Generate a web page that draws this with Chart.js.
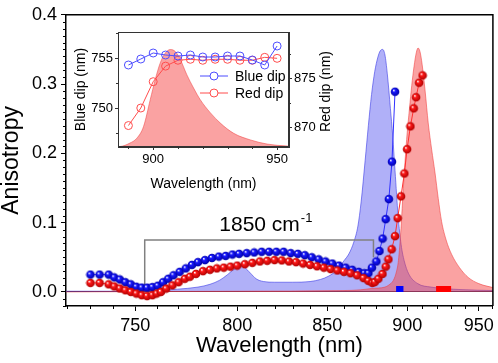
<!DOCTYPE html>
<html>
<head>
<meta charset="utf-8">
<script src="https://cdn.jsdelivr.net/npm/chart.js@4.4.1/dist/chart.umd.min.js"></script>
<style>
  html, body { margin: 0; padding: 0; background: #fff; }
  #wrap { position: relative; width: 498px; height: 363px; }
  #mainChart { position: absolute; left: 0; top: 0; }
  #insetChart { position: absolute; left: 70px; top: 22px; }
</style>
</head>
<body>
<div id="wrap">
  <canvas id="mainChart" width="498" height="363"></canvas>
  <canvas id="insetChart" width="268" height="172"></canvas>
</div>
<script>
// anisotropy dips (main plot), wavelength in nm
const blueWl = [730, 734, 738, 740.5, 743, 745.5, 748, 750.5, 753, 755.5,
    758, 760.5, 763, 765.5, 768, 771, 774, 777, 780, 783.5,
    787, 790.5, 794, 797.5, 801, 805, 809, 813, 817, 821,
    825, 829, 833, 837, 841, 845, 849, 853, 857, 861,
    865, 869, 872.5, 875, 877.2, 880, 882, 884, 886, 888,
    890, 892];
const blueAniso = [0.025, 0.025, 0.025, 0.021, 0.018, 0.014, 0.011, 0.0075, 0.0063, 0.0062,
    0.007, 0.009, 0.014, 0.019, 0.024, 0.029, 0.034, 0.039, 0.043, 0.046,
    0.049, 0.051, 0.052, 0.054, 0.055, 0.056, 0.057, 0.058, 0.058, 0.058,
    0.058, 0.056, 0.055, 0.053, 0.050, 0.047, 0.044, 0.041, 0.038, 0.035,
    0.032, 0.029, 0.027, 0.027, 0.035, 0.044, 0.059, 0.077, 0.105, 0.134,
    0.188, 0.289];

const redWl = [730, 734, 738, 740.5, 743, 745.5, 748, 750.5, 753, 755.5,
    758, 760, 762, 764.5, 767.5, 770.5, 773.5, 776, 779, 782.5,
    786, 789.5, 793, 796.5, 800, 804, 808, 812, 816, 820,
    824, 828, 832, 836, 840, 844, 848, 852, 856, 860,
    864, 868, 872, 875, 877.5, 879, 881.3, 883.9, 886, 887.7,
    889.8, 892, 893.7, 895.9, 898.1, 899.9, 902.1, 904.3, 905.9, 907.9,
    910.3];
const redAniso = [0.013, 0.013, 0.011, 0.008, 0.005, 0.0024, 0.0, -0.0023, -0.0047, -0.006,
    -0.0047, -0.0023, 0.0, 0.0048, 0.0095, 0.014, 0.019, 0.022, 0.026, 0.030,
    0.032, 0.034, 0.035, 0.0365, 0.038, 0.040, 0.042, 0.044, 0.045, 0.046,
    0.0455, 0.044, 0.043, 0.041, 0.039, 0.037, 0.035, 0.033, 0.031, 0.029,
    0.027, 0.024, 0.020, 0.016, 0.013, 0.0142, 0.019, 0.026, 0.0365, 0.047,
    0.0616, 0.0805, 0.1065, 0.138, 0.171, 0.206, 0.239, 0.265, 0.281, 0.302,
    0.3125];

// spectra (shaded areas)
const blueSpecWl = [719, 740, 760, 770, 780, 786, 791, 795, 798, 801.5,
    804, 807, 810, 814, 820, 830, 840, 846, 851, 856,
    860, 863, 866, 868.5, 870.5, 873, 875, 877, 879, 881,
    882.5, 884, 885.5, 887, 889, 890.5, 892, 894, 896, 898,
    901, 907, 916, 937, 961];
const blueSpecVal = [0.001, 0.001, 0.002, 0.004, 0.007, 0.011, 0.017, 0.025, 0.032, 0.037,
    0.035, 0.027, 0.019, 0.015, 0.014, 0.014, 0.015, 0.018, 0.023, 0.032,
    0.045, 0.055, 0.072, 0.095, 0.13, 0.19, 0.24, 0.285, 0.318, 0.339,
    0.348, 0.35, 0.342, 0.315, 0.265, 0.225, 0.175, 0.11, 0.068, 0.045,
    0.026, 0.012, 0.007, 0.0034, 0.002];
const redSpecWl = [719, 800, 860, 870, 877, 885.5, 888, 891, 893, 894.2,
    895.9, 897.4, 899.6, 901.5, 903, 904.5, 906, 907.2, 908.5, 910,
    912, 914.1, 916.5, 918.7, 921, 923.3, 926.5, 930.3, 936, 942.2,
    950, 961];
const redSpecVal = [0.0, 0.001, 0.002, 0.003, 0.005, 0.007, 0.010, 0.017, 0.03, 0.045,
    0.092, 0.149, 0.22, 0.265, 0.298, 0.325, 0.345, 0.352, 0.347, 0.328,
    0.29, 0.244, 0.205, 0.173, 0.135, 0.102, 0.075, 0.0545, 0.035, 0.021,
    0.012, 0.006];

// small markers on the baseline
const blueMarkWl = [892.7, 897.5];
const redMarkWl = [919.5, 930];
const markY = 0.0043;

// 1850 cm-1 bracket
const bracketWl = [754.4, 754.4, 878.2, 878.2];
const bracketY = [0.0024, 0.075, 0.075, 0.05];
const bracketLabel = [815, 0.0876];

const xTickWl = [750, 800, 850, 900, 950];
const yTicks = [0, 0.1, 0.2, 0.3, 0.4];

// inset
const insetWl = [890, 895, 900, 905, 910, 915, 920, 925, 930, 935, 940, 945, 950];
const insetBlueDip = [754.3, 754.9, 755.5, 755.3, 755.2, 755.3, 755.1, 755.1, 755.2, 755.2, 754.8, 754.3, 756.2];
const insetRedDip = [870.2, 872.0, 874.7, 876.3, 876.9, 877.0, 876.9, 877.0, 877.0, 876.9, 876.9, 877.2, 877.1];
const insetSpecWl = [880, 886.6, 890.6, 893.4, 896.1, 898.8, 900.8, 902.8, 904.9, 906.9,
    908.9, 910.9, 913.6, 916.3, 919, 923.1, 927.1, 932.5, 939.3, 946,
    954.1, 960];
const insetSpecVal = [0, 0.005, 0.04, 0.09, 0.21, 0.485, 0.69, 0.86, 0.965, 1.0,
    0.98, 0.9, 0.74, 0.605, 0.485, 0.35, 0.245, 0.14, 0.072, 0.03,
    0.01, 0.005];
const insetXTicks = [900, 950];
const insetBlueTicks = [750, 755];
const insetRedTicks = [870, 875];

const FONT = '"Liberation Sans", Arial, sans-serif';
Chart.defaults.font.family = FONT;
Chart.defaults.color = "#000";

const toWn = (wl) => 1e7 / wl;

function points(xs, ys, conv) {
    return xs.map((x, i) => ({ x: conv ? conv(x) : x, y: ys[i] }));
}

function sphere(mid, dark) {
    const r = 4.3;
    const s = 10;
    const c = document.createElement("canvas");
    c.width = s;
    c.height = s;
    const g = c.getContext("2d");
    const grad = g.createRadialGradient(s * 0.36, s * 0.34, 0.3, s / 2, s / 2, r);
    grad.addColorStop(0, "#ffffff");
    grad.addColorStop(0.3, mid);
    grad.addColorStop(1, dark);
    g.fillStyle = grad;
    g.beginPath();
    g.arc(s / 2, s / 2, r, 0, Math.PI * 2);
    g.fill();
    return c;
}

const minorXWl = [];
for (let w = 720; w <= 960; w += 10) if (w % 50 !== 0) minorXWl.push(w);
const minorY = [];
for (let i = -2; i <= 40; i++) if (i % 10 !== 0) minorY.push(i / 100);

const mainDecor = {
    id: "mainDecor",
    afterDatasetsDraw(chart) {
        const { ctx, scales: { x, y } } = chart;
        const cx = x.getPixelForValue(toWn(bracketLabel[0]));
        const cy = y.getPixelForValue(bracketLabel[1]);
        ctx.save();
        ctx.fillStyle = "#000";
        ctx.textBaseline = "alphabetic";
        ctx.font = "21px " + FONT;
        const wBase = ctx.measureText("1850 cm").width;
        ctx.font = "13px " + FONT;
        const wSup = ctx.measureText("-1").width;
        const left = cx - (wBase + wSup) / 2;
        ctx.font = "21px " + FONT;
        ctx.fillText("1850 cm", left, cy);
        ctx.font = "13px " + FONT;
        ctx.fillText("-1", left + wBase + 1, cy - 9);
        ctx.restore();
    },
    afterDraw(chart) {
        const { ctx, chartArea: a, scales: { x, y } } = chart;
        ctx.save();
        ctx.strokeStyle = "#000";
        ctx.lineWidth = 1.5;
        ctx.beginPath();
        ctx.moveTo(a.left, a.top);
        ctx.lineTo(a.right, a.top);
        ctx.lineTo(a.right, a.bottom);
        ctx.stroke();
        ctx.lineWidth = 1;
        ctx.beginPath();
        minorXWl.forEach((w) => {
            const px = Math.round(x.getPixelForValue(toWn(w))) + 0.5;
            ctx.moveTo(px, a.bottom);
            ctx.lineTo(px, a.bottom + 3);
        });
        minorY.forEach((v) => {
            const py = Math.round(y.getPixelForValue(v)) + 0.5;
            ctx.moveTo(a.left, py);
            ctx.lineTo(a.left - 3, py);
        });
        ctx.stroke();
        ctx.restore();
    },
};

new Chart(document.getElementById("mainChart"), {
    type: "line",
    data: {
        datasets: [
            {
                label: "red dip",
                data: points(redWl, redAniso, toWn),
                borderColor: "#ff3030",
                borderWidth: 1,
                pointStyle: sphere("#ff1a1a", "#b00000"),
                pointRadius: 4,
                fill: false,
                order: 0,
            },
            {
                label: "blue dip",
                data: points(blueWl, blueAniso, toWn),
                borderColor: "#3030ff",
                borderWidth: 1,
                pointStyle: sphere("#1a1aff", "#0000a8"),
                pointRadius: 4,
                fill: false,
                order: 1,
            },
            {
                label: "blue mark",
                data: points(blueMarkWl, [markY, markY], toWn),
                borderColor: "#0000ff",
                borderWidth: 6,
                borderCapStyle: "butt",
                pointRadius: 0,
                fill: false,
                order: 2,
            },
            {
                label: "red mark",
                data: points(redMarkWl, [markY, markY], toWn),
                borderColor: "#ff0000",
                borderWidth: 6,
                borderCapStyle: "butt",
                pointRadius: 0,
                fill: false,
                order: 2,
            },
            {
                label: "bracket",
                data: points(bracketWl, bracketY, toWn),
                borderColor: "#808080",
                borderWidth: 1.5,
                pointRadius: 0,
                fill: false,
                order: 3,
            },
            {
                label: "red spectrum",
                data: points(redSpecWl, redSpecVal, toWn),
                borderColor: "rgba(240,60,60,0.55)",
                backgroundColor: "rgba(245,70,70,0.5)",
                borderWidth: 1,
                pointRadius: 0,
                cubicInterpolationMode: "monotone",
                fill: "origin",
                order: 4,
            },
            {
                label: "blue spectrum",
                data: points(blueSpecWl, blueSpecVal, toWn),
                borderColor: "rgba(60,60,230,0.6)",
                backgroundColor: "rgba(80,80,240,0.45)",
                borderWidth: 1,
                pointRadius: 0,
                cubicInterpolationMode: "monotone",
                fill: "origin",
                order: 5,
            },
        ],
    },
    options: {
        responsive: false,
        animation: false,
        layout: { padding: { top: 10, right: 2, left: 0, bottom: 0 } },
        plugins: { legend: { display: false }, tooltip: { enabled: false } },
        scales: {
            x: {
                type: "linear",
                reverse: true,
                min: toWn(960.5),
                max: toWn(719.5),
                afterBuildTicks: (s) => {
                    s.ticks = xTickWl.map((w) => ({ value: toWn(w) }));
                },
                afterFit: (s) => {
                    s.height = 57;
                },
                ticks: {
                    autoSkip: false,
                    maxRotation: 0,
                    padding: 4,
                    font: { size: 18 },
                    callback: (v) => Math.round(1e7 / v),
                },
                grid: { drawOnChartArea: false, tickLength: 5, color: "#000", lineWidth: 1 },
                border: { color: "#000", width: 1.5 },
                title: {
                    display: true,
                    text: "Wavelength (nm)",
                    font: { size: 22, lineHeight: 1 },
                    padding: { top: 0, bottom: 6 },
                },
            },
            y: {
                min: -0.0203,
                max: 0.4,
                afterBuildTicks: (s) => {
                    s.ticks = yTicks.map((v) => ({ value: v }));
                },
                afterFit: (s) => {
                    s.width = 66;
                },
                ticks: {
                    padding: 4,
                    font: { size: 18 },
                    callback: (v) => v.toFixed(1),
                },
                grid: {
                    tickLength: 5,
                    tickColor: "#000",
                    lineWidth: 1,
                    color: (c) => (c.tick && c.tick.value === 0 ? "#000" : "rgba(0,0,0,0)"),
                },
                border: { color: "#000", width: 1.5 },
                title: {
                    display: true,
                    text: "Anisotropy",
                    font: { size: 23, lineHeight: 1 },
                    padding: { top: 0, bottom: 0 },
                },
            },
        },
    },
    plugins: [mainDecor],
});

// ---- inset ----
const insetColors = { blue: "#4d4dff", red: "#ff4d4d" };

const insetDecor = {
    id: "insetDecor",
    afterDatasetsDraw(chart) {
        const { ctx, chartArea: a } = chart;
        const rows = [["Blue dip", insetColors.blue], ["Red dip", insetColors.red]];
        ctx.save();
        rows.forEach(([label, color], i) => {
            const yy = a.top + 44 + i * 17;
            const x0 = a.left + 82;
            ctx.strokeStyle = color;
            ctx.lineWidth = 1;
            ctx.beginPath();
            ctx.moveTo(x0, yy);
            ctx.lineTo(x0 + 28, yy);
            ctx.stroke();
            ctx.fillStyle = "#fff";
            ctx.beginPath();
            ctx.arc(x0 + 14, yy, 4, 0, Math.PI * 2);
            ctx.fill();
            ctx.stroke();
            ctx.fillStyle = "#000";
            ctx.font = "14px " + FONT;
            ctx.textBaseline = "middle";
            ctx.fillText(label, x0 + 35, yy + 1);
        });
        ctx.restore();
    },
    afterDraw(chart) {
        const { ctx, chartArea: a, scales: { x, yL, yR } } = chart;
        ctx.save();
        ctx.strokeStyle = "#333";
        ctx.lineWidth = 1;
        ctx.strokeRect(a.left + 0.5, a.top + 0.5, a.right - a.left - 1, a.bottom - a.top - 1);
        ctx.beginPath();
        [890, 910, 920, 930, 940].forEach((w) => {
            const px = Math.round(x.getPixelForValue(w)) + 0.5;
            ctx.moveTo(px, a.bottom);
            ctx.lineTo(px, a.bottom + 2);
        });
        [747.5, 752.5, 757.5].forEach((v) => {
            const py = Math.round(yL.getPixelForValue(v)) + 0.5;
            ctx.moveTo(a.left, py);
            ctx.lineTo(a.left - 2, py);
        });
        [872.5, 877.5].forEach((v) => {
            const py = Math.round(yR.getPixelForValue(v)) + 0.5;
            ctx.moveTo(a.right, py);
            ctx.lineTo(a.right + 2, py);
        });
        ctx.stroke();
        ctx.fillStyle = "#000";
        ctx.font = "14px " + FONT;
        ctx.textAlign = "center";
        ctx.textBaseline = "middle";
        ctx.translate(a.right + 37, (a.top + a.bottom) / 2 + 2);
        ctx.rotate(-Math.PI / 2);
        ctx.fillText("Red dip (nm)", 0, 0);
        ctx.restore();
    },
};

new Chart(document.getElementById("insetChart"), {
    type: "line",
    data: {
        datasets: [
            {
                label: "Blue dip",
                data: points(insetWl, insetBlueDip),
                yAxisID: "yL",
                borderColor: insetColors.blue,
                backgroundColor: "rgba(255,255,255,0)",
                borderWidth: 1,
                pointRadius: 4,
                pointBorderWidth: 1,
                fill: false,
                order: 0,
            },
            {
                label: "Red dip",
                data: points(insetWl, insetRedDip),
                yAxisID: "yR",
                borderColor: insetColors.red,
                backgroundColor: "rgba(255,255,255,0)",
                borderWidth: 1,
                pointRadius: 4,
                pointBorderWidth: 1,
                fill: false,
                order: 1,
            },
            {
                label: "spectrum",
                data: points(insetSpecWl, insetSpecVal),
                yAxisID: "ySpec",
                borderColor: "rgba(240,60,60,0.5)",
                backgroundColor: "rgba(245,70,70,0.5)",
                borderWidth: 1,
                pointRadius: 0,
                cubicInterpolationMode: "monotone",
                fill: "origin",
                order: 2,
            },
        ],
    },
    options: {
        responsive: false,
        animation: false,
        layout: { padding: { top: 10, right: 0, left: 0, bottom: 0 } },
        plugins: { legend: { display: false }, tooltip: { enabled: false } },
        scales: {
            x: {
                type: "linear",
                min: 885.8,
                max: 954.8,
                afterBuildTicks: (s) => {
                    s.ticks = insetXTicks.map((v) => ({ value: v }));
                },
                afterFit: (s) => {
                    s.height = 47;
                },
                ticks: { autoSkip: false, maxRotation: 0, padding: 2, font: { size: 13 } },
                grid: { drawOnChartArea: false, tickLength: 3, color: "#333" },
                border: { color: "#333", width: 1 },
                title: {
                    display: true,
                    text: "Wavelength (nm)",
                    font: { size: 14, lineHeight: 1 },
                    padding: { top: 0, bottom: 3 },
                },
            },
            yL: {
                position: "left",
                min: 746.1,
                max: 757.6,
                afterBuildTicks: (s) => {
                    s.ticks = insetBlueTicks.map((v) => ({ value: v }));
                },
                afterFit: (s) => {
                    s.width = 48;
                },
                ticks: { padding: 2, font: { size: 13 } },
                grid: { drawOnChartArea: false, tickLength: 3, color: "#333" },
                border: { color: "#333", width: 1 },
                title: {
                    display: true,
                    text: "Blue dip (nm)",
                    font: { size: 14, lineHeight: 1 },
                    padding: { top: 4, bottom: 0 },
                },
            },
            yR: {
                position: "right",
                min: 868,
                max: 879.8,
                afterBuildTicks: (s) => {
                    s.ticks = insetRedTicks.map((v) => ({ value: v }));
                },
                afterFit: (s) => {
                    s.width = 49;
                },
                ticks: { padding: 2, font: { size: 13 } },
                grid: { drawOnChartArea: false, tickLength: 3, color: "#333" },
                border: { color: "#333", width: 1 },
            },
            ySpec: { display: false, min: 0, max: 1.18 },
        },
    },
    plugins: [insetDecor],
});
</script>
</body>
</html>
